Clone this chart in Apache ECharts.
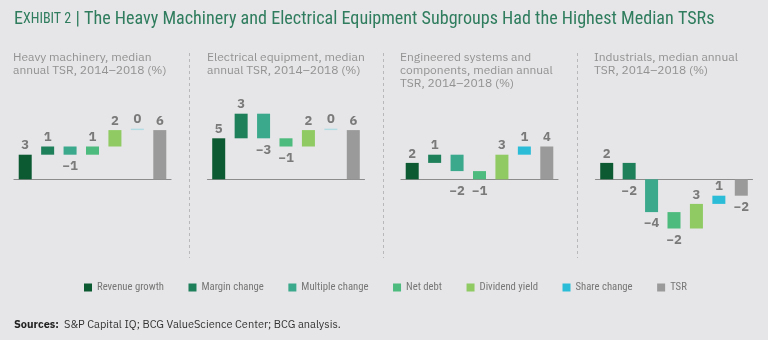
<!DOCTYPE html>
<html>
<head>
<meta charset="utf-8">
<script src="https://cdn.jsdelivr.net/npm/echarts@6/dist/echarts.min.js"></script>
<style>
  html, body { margin: 0; padding: 0; background: #e6e6e8; }
  #chart { width: 768px; height: 340px; }
</style>
</head>
<body>
<div id="chart"></div>
<script>
// TSR decomposition components (x categories of every panel)
const components = ['Revenue growth', 'Margin change', 'Multiple change', 'Net debt', 'Dividend yield', 'Share change', 'TSR'];

// Median annual TSR contributions, 2014–2018 (%); last entry is the total TSR
const heavyMachinery = [3, 1, -1, 1, 2, 0, 6];
const electricalEquipment = [5, 3, -3, -1, 2, 0, 6];
const engineeredSystems = [2, 1, -2, -1, 3, 1, 4];
const industrials = [2, -2, -4, -2, 3, 1, -2];

const panelSubtitles = [
  'Heavy machinery, median\nannual TSR, 2014–2018 (%)',
  'Electrical equipment, median\nannual TSR, 2014–2018 (%)',
  'Engineered systems and\ncomponents, median annual\nTSR, 2014–2018 (%)',
  'Industrials, median annual\nTSR, 2014–2018 (%)'
];

const componentColors = ['#0b5a32', '#1e7f5b', '#3aa98c', '#4cbb7d', '#8fca62', '#2bbdd8', '#9a9a9a'];
const zeroColor = '#b3dbe2';

const panels = [heavyMachinery, electricalEquipment, engineeredSystems, industrials];
const gridLefts = [14, 207.5, 401, 595.5];
const subtitleLefts = [13, 207, 400, 594];

const Y_MIN = -10, Y_MAX = 10, GRID_TOP = 97.3, GRID_H = 164;
const PX_PER_UNIT = GRID_H / (Y_MAX - Y_MIN);

const FONT = '"IBM Plex Sans", "Noto Sans", "Open Sans", sans-serif';
const NARROW = '"Liberation Sans Narrow", "Roboto Condensed", Roboto, sans-serif';
const fmt = v => (v < 0 ? '\u2212' + Math.abs(v) : String(v));

const grids = [], xAxes = [], yAxes = [], series = [], titles = [];

titles.push({
  left: 14, top: 10, padding: 0,
  text: '{e|E}{s|XHIBIT 2}{m| | The Heavy Machinery and Electrical Equipment Subgroups Had the Highest Median TSRs}',
  textStyle: {
    rich: {
      e: { fontFamily: NARROW, fontWeight: 'normal', fontSize: 18.1, color: '#2f7d5e' },
      s: { fontFamily: NARROW, fontWeight: 'normal', fontSize: 14, color: '#2f7d5e' },
      m: { fontFamily: NARROW, fontWeight: 'normal', fontSize: 18.1, color: '#2f7d5e' }
    }
  }
});

panels.forEach((vals, p) => {
  grids.push({ left: gridLefts[p], width: 157, top: GRID_TOP, height: GRID_H });
  xAxes.push({
    type: 'category', gridIndex: p, data: components,
    axisLabel: { show: false }, axisTick: { show: false },
    axisLine: { onZero: true, lineStyle: { color: '#8c8c8c', width: 1.2 } }
  });
  yAxes.push({ type: 'value', gridIndex: p, min: Y_MIN, max: Y_MAX, show: false, splitLine: { show: false } });

  // waterfall starting levels: each step begins where the previous ended; TSR starts at 0
  const starts = [];
  let level = 0;
  vals.forEach((v, k) => {
    if (k === vals.length - 1) { starts.push(0); }
    else { starts.push(level); level += v; }
  });

  // invisible base that lifts each step to its starting level
  series.push({
    type: 'bar', xAxisIndex: p, yAxisIndex: p, stack: 'w' + p, stackStrategy: 'all',
    barWidth: 13, silent: true, data: starts,
    itemStyle: { color: 'rgba(0,0,0,0)' }, emphasis: { disabled: true }
  });

  // visible steps, one colour per component
  series.push({
    type: 'bar', xAxisIndex: p, yAxisIndex: p, stack: 'w' + p, stackStrategy: 'all',
    barWidth: 13, barMinHeight: 1.5,
    data: vals.map((v, k) => {
      const end = starts[k] + v;
      // a falling step that ends just above the baseline gets its label dropped below the axis
      const drop = v < 0 && end > 0 && end < 1.5 ? end * PX_PER_UNIT : 0;
      return {
        value: v,
        itemStyle: { color: v === 0 ? zeroColor : componentColors[k] },
        label: {
          position: v < 0 ? 'bottom' : 'top',
          distance: v < 0 ? 5 : 2.5,
          offset: [0, drop]
        }
      };
    }),
    label: {
      show: true,
      formatter: prm => fmt(prm.value),
      fontFamily: FONT, fontWeight: 'bold', fontSize: 13, color: '#7a7a7a'
    },
    emphasis: { disabled: true }
  });

  titles.push({
    left: subtitleLefts[p], top: 51, padding: 0,
    text: panelSubtitles[p],
    textStyle: { fontFamily: FONT, fontWeight: 'normal', fontSize: 12, lineHeight: 13, color: '#929292' }
  });
});

// legend entries (carry the component colours, no marks of their own)
components.forEach((name, k) => {
  series.push({
    name, type: 'bar', xAxisIndex: 0, yAxisIndex: 0, stack: 'w0', barWidth: 13,
    data: [], itemStyle: { color: componentColors[k] }
  });
});

titles.push({
  left: 14, top: 316, padding: 0,
  text: '{b|Sources:} {r|S&P Capital IQ; BCG ValueScience Center; BCG analysis.}',
  textStyle: {
    rich: {
      b: { fontFamily: FONT, fontWeight: 'bold', fontSize: 11, color: '#222' },
      r: { fontFamily: FONT, fontWeight: 'normal', fontSize: 11, color: '#333' }
    }
  }
});

const legend = {
  left: 84, top: 282, padding: 0, itemGap: 24.5,
  icon: 'rect', itemWidth: 8, itemHeight: 8, selectedMode: false,
  data: components,
  textStyle: { fontFamily: NARROW, fontSize: 10.7, color: '#767676' }
};

// dashed panel separators
const separators = [189.5, 383.5, 577.5].map(x => ({
  type: 'line', silent: true,
  shape: { x1: x, y1: 53, x2: x, y2: 258 },
  style: { stroke: '#b8b8ba', lineWidth: 1, lineDash: [3, 3] }
}));

const chart = echarts.init(document.getElementById('chart'), null, { renderer: 'canvas' });
chart.setOption({
  backgroundColor: '#e6e6e8',
  animation: false,
  title: titles,
  legend,
  grid: grids,
  xAxis: xAxes,
  yAxis: yAxes,
  series,
  graphic: separators
});
</script>
</body>
</html>
